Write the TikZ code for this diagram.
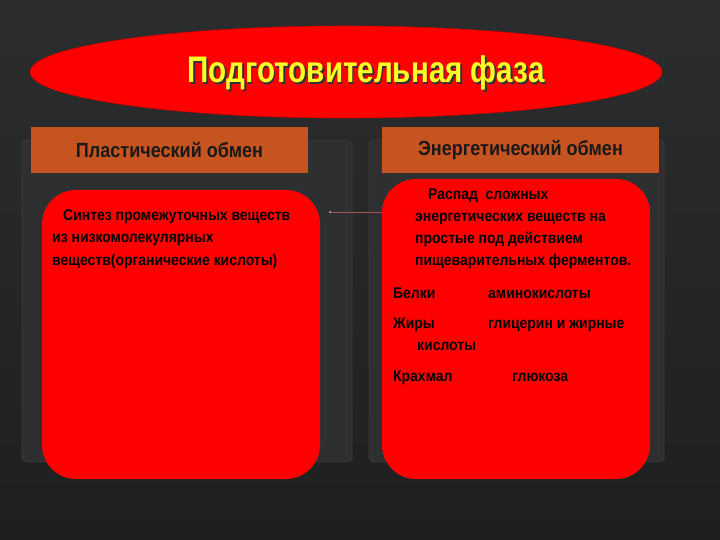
\documentclass[tikz,border=0pt]{standalone}
\usepackage{fontspec}
\setmainfont{Liberation Sans}
\newfontfamily\titlefont[FakeStretch=0.8]{Liberation Sans}
\newfontfamily\hdrfont[FakeStretch=0.88]{Liberation Sans}
\newfontfamily\bodyfont[FakeStretch=0.9]{Liberation Sans}
\usetikzlibrary{shapes.geometric}
\definecolor{bgtop}{RGB}{44,45,46}
\definecolor{bgbot}{RGB}{30,31,31}
\definecolor{panelfill}{RGB}{46,47,48}
\definecolor{panelline}{RGB}{58,60,62}
\definecolor{hdr}{RGB}{197,84,32}
\definecolor{brightred}{RGB}{255,0,0}
\definecolor{ttlyellow}{RGB}{255,255,40}
\definecolor{linkc}{RGB}{170,80,80}
\tikzset{
  panel/.style={draw=panelline, line width=0.8pt, fill=panelfill, rounded corners=5pt},
  hdrbox/.style={fill=hdr, draw=none, minimum width=277pt, minimum height=46pt, inner sep=0pt,
     font=\hdrfont\fontsize{20.5}{22}\selectfont\bfseries, text=black!90},
  redbox/.style={fill=brightred, draw=none, rounded corners=34pt, inner sep=0pt},
  body/.style={anchor=base west, inner sep=0pt, font=\bodyfont\fontsize{15.5}{17}\selectfont\bfseries, text=black}
}
\begin{document}
\begin{tikzpicture}[x=1pt,y=-1pt]
\shade[top color=bgtop, bottom color=bgbot] (0,0) rectangle (720,540);
\useasboundingbox (0,0) rectangle (720,540);
% back panels
\node[panel, minimum width=330pt, minimum height=322pt, inner sep=0pt] (lpanel) at (187,301) {};
\node[panel, minimum width=295pt, minimum height=322pt, inner sep=0pt] (rpanel) at (516.5,301) {};
% title ellipse
\node[ellipse, fill=brightred, draw=red!80!black, line width=0.6pt, minimum width=632pt, minimum height=92pt, inner sep=0pt] (ell) at (346,72) {};
\node[text=black!80, font=\titlefont\fontsize{37}{40}\selectfont\bfseries] at (367.5,74.5) {Подготовительная фаза};
\node[text=ttlyellow, font=\titlefont\fontsize{37}{40}\selectfont\bfseries] (title) at (366,73) {Подготовительная фаза};
% headers
\node[hdrbox] (lhdr) at (169.5,150) {Пластический обмен};
\node[hdrbox] (rhdr) at (520.5,150) {Энергетический обмен};
% red boxes
\node[redbox, minimum width=278pt, minimum height=289pt] (lbox) at (181,334.5) {};
\node[redbox, minimum width=268pt, minimum height=300pt] (rbox) at (516,329) {};
% connector
\coordinate (cstart) at (330,212);
\draw[linkc, line width=0.8pt] (cstart) -- (rbox.west |- cstart);
\fill[gray!60] (cstart) circle (1.2pt);
% left text
\node[body] (l1) at (63,221) {Синтез промежуточных веществ};
\node[body] (l2) at (52,243) {из низкомолекулярных};
\node[body] (l3) at (52,265) {веществ(органические кислоты)};
% right text
\node[body] (r1) at (428,200) {Распад \ сложных};
\node[body] (r2) at (415,222) {энергетических веществ на};
\node[body] (r3) at (415,243.5) {простые под действием};
\node[body] (r4) at (415,265) {пищеварительных ферментов.};
\node[body] (b1) at (393,298) {Белки};
\node[body] (b2) at (488,298) {аминокислоты};
\node[body] (j1) at (393,328) {Жиры};
\node[body] (j2) at (488,328) {глицерин и жирные};
\node[body] (j3) at (417,350) {кислоты};
\node[body] (k1) at (393,381) {Крахмал};
\node[body] (k2) at (512,381) {глюкоза};
\end{tikzpicture}
\end{document}
